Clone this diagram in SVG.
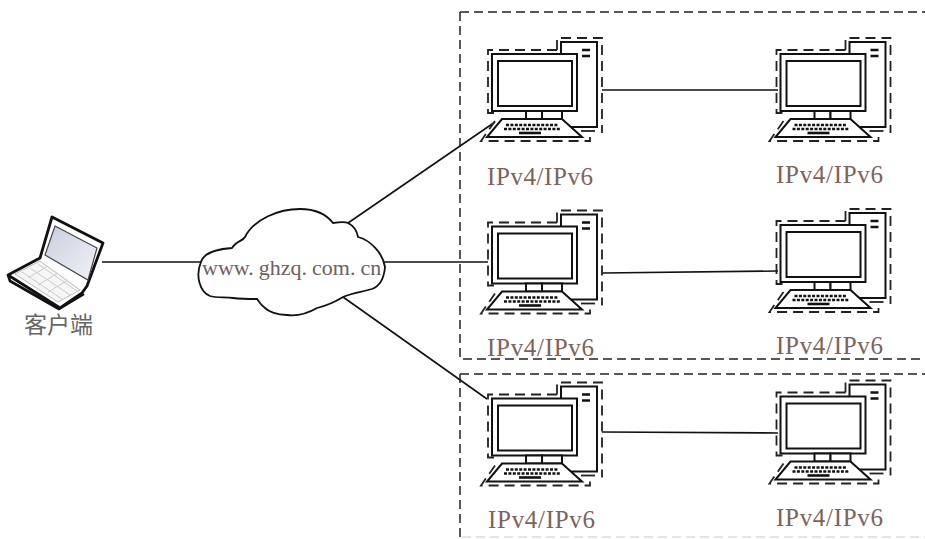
<svg xmlns="http://www.w3.org/2000/svg" width="925" height="539" viewBox="0 0 925 539">
<style>
.ln{fill:none;stroke:#111;stroke-width:1.6}
.fr{fill:none;stroke:#222;stroke-width:1.5;stroke-dasharray:9 5}
.d{fill:none;stroke:#222;stroke-width:1.8;stroke-dasharray:10 6}
.s{fill:#fff;stroke:#111;stroke-width:2}
.t{font-family:"Liberation Serif","Noto Sans CJK SC",serif;font-size:25px;fill:#7d635c}
</style>
<defs>
<linearGradient id="scr" x1="0" y1="0" x2="1" y2="1"><stop offset="0" stop-color="#c9cede"/><stop offset="1" stop-color="#f2f3f7"/></linearGradient>
<g id="pc">
<path class="d" d="M557 50V38H602V133"/>
<path class="d" d="M557 50H488V113H496"/>
<path class="d" d="M495 121L481 141H590V137"/>
<path d="M581 131H595" stroke="#222" stroke-width="1.8"/>
<rect class="s" x="561" y="42" width="36" height="85"/>
<path d="M582 50h8M582 56h8" stroke="#111" stroke-width="2.4"/>
<rect class="s" x="492" y="54" width="85" height="57"/>
<rect class="s" x="498" y="61" width="74" height="45"/>
<path class="s" d="M526 111h16v8h-16z"/>
<path class="s" d="M542 111h20v8h-20z"/>
<path class="s" d="M502 119H562L582 137H487Z"/>
<path d="M506 125H558M504 129H560" stroke="#111" stroke-width="2.4" stroke-dasharray="3 1.4"/>
<path d="M519 133H541" stroke="#111" stroke-width="2.6"/>
</g>
</defs>
<g id="frames">
<path class="fr" d="M460 12H925M460 12V359H925"/>
<path class="fr" d="M460 374H925M460 374V539"/>
<path class="fr" d="M462 537H925" style="stroke:#ddd"/>
</g>
<g id="connectors">
<path class="ln" d="M102 262H202"/>
<path class="ln" d="M348 223L495 122"/>
<path class="ln" d="M384 262H488"/>
<path class="ln" d="M343 297L487 399"/>
<path class="ln" d="M602 90H778"/>
<path class="ln" d="M602 273L778 271"/>
<path class="ln" d="M602 432L778 433"/>
</g>
<g id="client">
<path d="M8 275L40 258L52 217L103 243L87 286L82 293L60 308Z" fill="#fff" stroke="#111" stroke-width="2.8" stroke-linejoin="round"/>
<path d="M55 226L97 248L88 280L45 255Z" fill="url(#scr)" stroke="#444" stroke-width="1.2"/>
<path d="M15 274L40 261L80 290L58 302Z" fill="#f6f6f6" stroke="#bbb" stroke-width="1"/>
<path d="M22 272L62 299M30 268L70 295M38 264L77 291M28 278L48 266M38 285L58 273M48 292L68 280" stroke="#ccc" stroke-width="1" fill="none"/>
<path d="M8 275L10 281L59 309L84 294" fill="none" stroke="#111" stroke-width="2.6" stroke-linejoin="round"/>
<text x="24" y="333" font-family="'Liberation Serif','Noto Sans CJK SC',sans-serif" font-size="23" fill="#666">客户端</text>
</g>
<g id="cloud">
<path d="M201 262C204 252 217 249 232 248C236 241 243 241 245 237C254 219 279 209 300 209C315 209 326 214 333 223C340 222 346 222 348 223C354 226 357 231 358 237C370 240 383 253 385 267C384 279 380 286 372 289C362 292 352 293 343 297C335 302 325 306 317 308C305 315 295 316 287 315C276 315 268 311 265 308C261 305 259 302 257 299C250 299 242 299 233 298C225 297 216 298 210 296C200 292 195 276 201 262Z" fill="#fff" stroke="#111" stroke-width="1.8"/>
<text x="202" y="275" class="t" style="font-size:22px;fill:#6e5f60">www.<tspan dx="5">ghzq.</tspan><tspan dx="5">com.</tspan><tspan dx="5">cn</tspan></text>
</g>
<g id="pc1"><use href="#pc"/><text class="t" x="487" y="185" textLength="106">IPv4/IPv6</text></g>
<g id="pc2"><use href="#pc" x="288.5"/><text class="t" x="776" y="183" textLength="107">IPv4/IPv6</text></g>
<g id="pc3"><use href="#pc" y="172.5"/><text class="t" x="487" y="356" textLength="107">IPv4/IPv6</text></g>
<g id="pc4"><use href="#pc" x="288.5" y="171"/><text class="t" x="776" y="354" textLength="107">IPv4/IPv6</text></g>
<g id="pc5"><use href="#pc" y="344.5"/><text class="t" x="488" y="528" textLength="107">IPv4/IPv6</text></g>
<g id="pc6"><use href="#pc" x="288.5" y="342.5"/><text class="t" x="776" y="526" textLength="107">IPv4/IPv6</text></g>
</svg>
